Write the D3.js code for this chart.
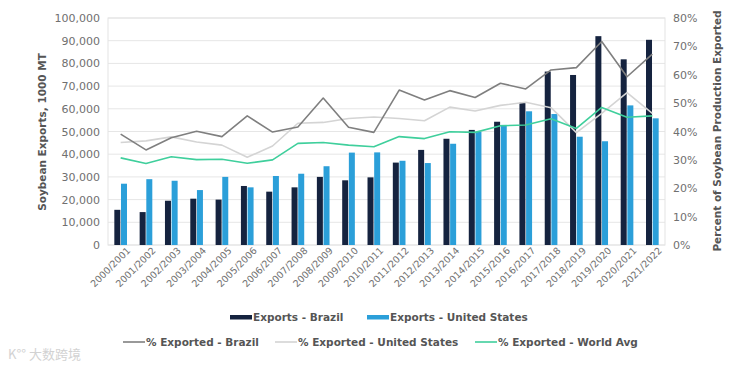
<!DOCTYPE html>
<html><head><meta charset="utf-8">
<script src="https://cdn.jsdelivr.net/npm/d3@7"></script>
<style>
html,body{margin:0;padding:0;background:#fff;}
svg{display:block;font-family:"DejaVu Sans",sans-serif;}
</style></head><body>
<svg id="c" width="737" height="372"></svg>
<script>
const categories = ["2000/2001","2001/2002","2002/2003","2003/2004","2004/2005","2005/2006","2006/2007","2007/2008","2008/2009","2009/2010","2010/2011","2011/2012","2012/2013","2013/2014","2014/2015","2015/2016","2016/2017","2017/2018","2018/2019","2019/2020","2020/2021","2021/2022"];
const exportsBrazil = [15500,14500,19500,20400,20000,26000,23500,25400,30000,28500,29800,36300,41900,46800,50700,54300,62700,76400,74900,92000,81800,90400];
const exportsUS = [27000,29000,28300,24200,30000,25400,30400,31400,34700,40700,40800,37100,36100,44600,49900,52900,58900,57700,47700,45700,61500,55800];
const pctBrazil = [39.1,33.5,37.8,40.1,38.2,45.5,39.8,41.6,51.8,41.5,39.7,54.6,51.1,54.4,52.0,57.0,55.0,61.7,62.5,71.7,59.3,67.3];
const pctUS = [36.1,36.7,38.1,36.3,35.2,30.9,34.9,42.9,43.2,44.6,45.1,44.6,43.8,48.6,47.2,49.2,50.3,48.4,39.6,46.4,53.7,46.4];
const pctWorld = [30.7,28.7,31.1,30.1,30.2,28.8,30.0,35.8,36.1,35.2,34.6,38.2,37.5,39.9,39.7,42.0,42.3,44.5,41.1,48.5,45.0,45.5];
const leftTicks = [0,10000,20000,30000,40000,50000,60000,70000,80000,90000,100000];
const rightTicks = [0,0.1,0.2,0.3,0.4,0.5,0.6,0.7,0.8];

const svg = d3.select("#c");
const L = 108, R = 665, T = 18, B = 245;
const txt = "#707070";

const x0 = d3.scaleBand().domain(categories).range([L, R]).paddingInner(0.5).paddingOuter(0.25);
const x1 = d3.scaleBand().domain(["br","us"]).range([0, x0.bandwidth()]).paddingInner(0.1);
const yL = d3.scaleLinear().domain([0,100000]).range([B, T]);
const yR = d3.scaleLinear().domain([0,0.8]).range([B, T]);

// grid
svg.append("g").selectAll("line").data(leftTicks).join("line")
  .attr("x1", L).attr("x2", R).attr("y1", d=>yL(d)).attr("y2", d=>yL(d))
  .attr("stroke", "#e6e6e6").attr("stroke-width", 1);
svg.append("rect").attr("x", L).attr("y", T).attr("width", R-L).attr("height", B-T)
  .attr("fill","none").attr("stroke","#e3e3e3");

// bars
const gb = svg.append("g");
gb.selectAll("rect.br").data(categories).join("rect").attr("class","br")
  .attr("x", d=>x0(d)+x1("br")).attr("width", x1.bandwidth())
  .attr("y", (d,i)=>yL(exportsBrazil[i])).attr("height", (d,i)=>B-yL(exportsBrazil[i]))
  .attr("fill", "#15233f");
gb.selectAll("rect.us").data(categories).join("rect").attr("class","us")
  .attr("x", d=>x0(d)+x1("us")).attr("width", x1.bandwidth())
  .attr("y", (d,i)=>yL(exportsUS[i])).attr("height", (d,i)=>B-yL(exportsUS[i]))
  .attr("fill", "#2b9fd9");

// lines
const cx = d=>x0(d)+x0.bandwidth()/2;
function drawLine(vals, color, w){
  const line = d3.line().x((v,i)=>cx(categories[i])).y(v=>yR(v/100));
  svg.append("path").datum(vals).attr("d", line).attr("fill","none")
    .attr("stroke", color).attr("stroke-width", w).attr("stroke-linejoin","round");
}
drawLine(pctUS, "#d4d4d4", 1.6);
drawLine(pctWorld, "#3fcf9c", 1.6);
drawLine(pctBrazil, "#7f7f7f", 1.6);

// left axis
const axL = svg.append("g").attr("transform", `translate(${L},0)`)
  .call(d3.axisLeft(yL).tickValues(leftTicks).tickFormat(d3.format(",")).tickSize(0).tickPadding(8));
axL.select(".domain").remove();
axL.selectAll("text").attr("fill", txt).style("font-size","11px").style("font-family","'DejaVu Sans',sans-serif");

// right axis
const axR = svg.append("g").attr("transform", `translate(${R},0)`)
  .call(d3.axisRight(yR).tickValues(rightTicks).tickFormat(d3.format(".0%")).tickSize(0).tickPadding(8));
axR.select(".domain").remove();
axR.selectAll("text").attr("fill", txt).style("font-size","11px").style("font-family","'DejaVu Sans',sans-serif");

// x axis
const axX = svg.append("g").attr("transform", `translate(0,${B})`)
  .call(d3.axisBottom(x0).tickSize(0).tickPadding(6));
axX.select(".domain").remove();
axX.selectAll("text").attr("fill", txt).style("font-size","9.5px").style("font-family","'DejaVu Sans',sans-serif")
  .attr("text-anchor","end").attr("dx","0.3em").attr("dy","0.6em")
  .attr("transform","rotate(-45)");

// axis titles
svg.append("text").attr("transform", `translate(46,132) rotate(-90)`)
  .attr("text-anchor","middle").attr("fill","#555").style("font-size","10.5px").style("font-weight","bold")
  .text("Soybean Exports, 1000 MT");
svg.append("text").attr("transform", `translate(721,131) rotate(-90)`)
  .attr("text-anchor","middle").attr("fill","#555").style("font-size","10.5px").style("font-weight","bold")
  .text("Percent of Soybean Production Exported");

// legend
const lg = svg.append("g").style("font-size","10.5px").style("font-weight","bold");
const leg1 = [{x:230, c:"#15233f", t:"Exports - Brazil"},{x:367, c:"#2b9fd9", t:"Exports - United States"}];
leg1.forEach(d=>{
  lg.append("rect").attr("x", d.x).attr("y", 315).attr("width", 22).attr("height", 4.5).attr("fill", d.c);
  lg.append("text").attr("x", d.x+23).attr("y", 317).attr("dy","0.35em").attr("fill","#555").text(d.t);
});
const leg2 = [{x:123, c:"#7f7f7f", t:"% Exported - Brazil"},{x:275, c:"#d4d4d4", t:"% Exported - United States"},{x:475, c:"#3fcf9c", t:"% Exported - World Avg"}];
leg2.forEach(d=>{
  lg.append("line").attr("x1", d.x).attr("x2", d.x+22).attr("y1", 342).attr("y2", 342).attr("stroke", d.c).attr("stroke-width", 1.6);
  lg.append("text").attr("x", d.x+23).attr("y", 342).attr("dy","0.35em").attr("fill","#555").text(d.t);
});

// watermark
svg.append("text").attr("x", 8).attr("y", 359).attr("fill","#d2d2d2")
  .style("font-size","13px").style("font-family","'Noto Sans CJK SC',sans-serif")
  .text("K°° 大数跨境");
</script>
</body></html>
